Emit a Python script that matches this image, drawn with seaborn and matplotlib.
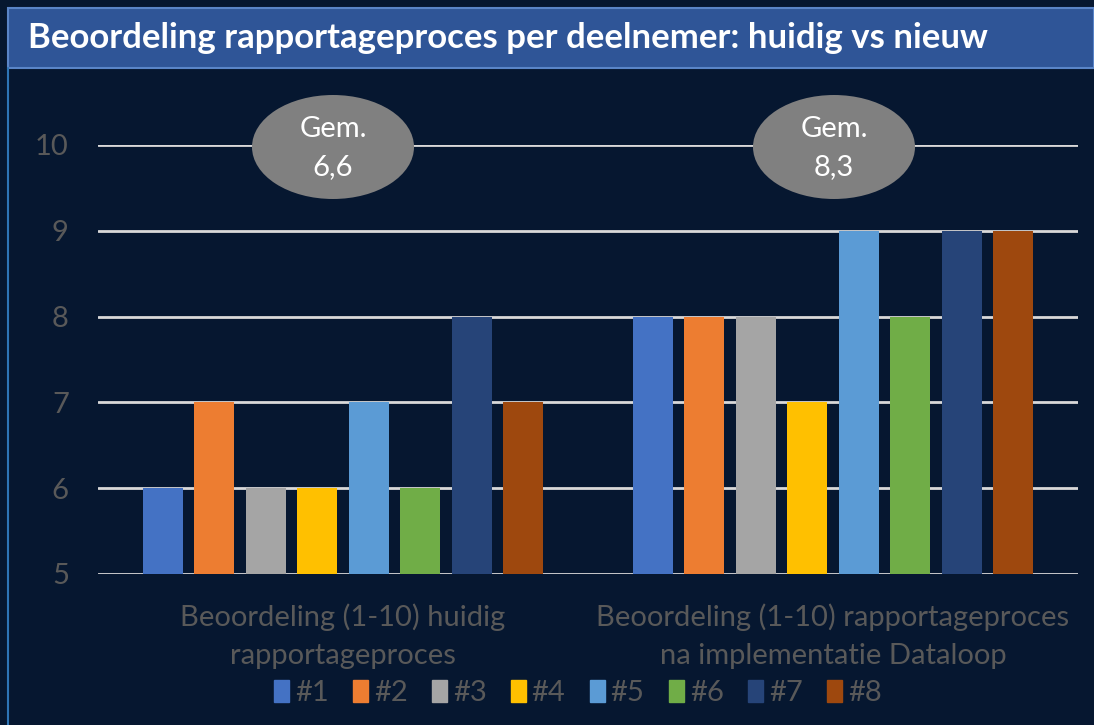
import matplotlib
matplotlib.use("Agg")
import matplotlib.pyplot as plt
import matplotlib.patches as mpatches
import seaborn as sns
import pandas as pd

# data
categories = ["Beoordeling (1-10) huidig\nrapportageproces",
              "Beoordeling (1-10) rapportageproces\nna implementatie Dataloop"]
participants = ["#1", "#2", "#3", "#4", "#5", "#6", "#7", "#8"]
scores_current = [6, 7, 6, 6, 7, 6, 8, 7]
scores_new = [8, 8, 8, 7, 9, 8, 9, 9]
averages = ["6,6", "8,3"]
yticks = [5, 6, 7, 8, 9, 10]

colors = ["#4472C4", "#ED7D31", "#A5A5A5", "#FFC000",
          "#5B9BD5", "#70AD47", "#264478", "#9E480E"]
BG = "#061730"
TXT = "#595959"

df = pd.DataFrame({
    "cat": [categories[0]] * 8 + [categories[1]] * 8,
    "who": participants * 2,
    "score": scores_current + scores_new,
})

sns.set_theme(style="dark")
plt.rcParams["font.family"] = ["Lato", "DejaVu Sans"]

fig = plt.figure(figsize=(10.94, 7.25), dpi=100, facecolor=BG)
W, H = 1094, 725
ax = fig.add_axes([98 / W, 1 - 574 / H, 980 / W, (574 - 145) / H])
ax.set_facecolor(BG)

sns.barplot(data=df, x="cat", y="score", hue="who", palette=colors,
            width=0.84, gap=0.22, ax=ax, legend=True, saturation=1,
            linewidth=0, edgecolor="none")
# bars start at the axis floor (5)
for p in ax.patches:
    if isinstance(p, mpatches.Rectangle) and p.get_height() > 0:
        h = p.get_height()
        p.set_y(5)
        p.set_height(h - 5)
        p.set_zorder(3)

ax.set_ylim(5, 10)
ax.set_xlim(-0.5, 1.5)
ax.set_yticks(yticks)
ax.grid(axis="y", color="#D9D9D9", linewidth=2, zorder=0)
ax.set_axisbelow(True)
for s in ax.spines.values():
    s.set_visible(False)
ax.set_xlabel("")
ax.set_ylabel("")
ax.tick_params(axis="y", colors=TXT, labelsize=21, length=0, pad=21)
ax.tick_params(axis="x", colors=TXT, labelsize=21, length=0, pad=21)
for lab in ax.get_xticklabels():
    lab.set_linespacing(1.57)

# average ovals
for xc, avg in zip([333, 834], averages):
    e = mpatches.Ellipse((xc / W, 1 - 147 / H), 162 / W, 104 / H,
                         transform=fig.transFigure, facecolor="#808080",
                         edgecolor="none", zorder=5)
    fig.patches.append(e)
    fig.text(xc / W, 1 - 148 / H, f"Gem.\n{avg}", ha="center", va="center",
             color="white", fontsize=21, linespacing=1.55, zorder=6)

# legend
handles = [mpatches.Patch(color=c) for c in colors]
ax.get_legend().remove()
fig.legend(handles, participants, loc="center", bbox_to_anchor=(578 / W, 1 - 693 / H),
           ncol=8, frameon=False, fontsize=21, labelcolor=TXT,
           handlelength=0.5, handleheight=0.8, handletextpad=0.2, columnspacing=0.85)

# title bar and left line
fig.patches.append(mpatches.Rectangle((8 / W, 1 - 68 / H), 1 - 8 / W, 60 / H,
                                      transform=fig.transFigure, facecolor="#2F5597",
                                      edgecolor="#5A85C8", linewidth=1.5, zorder=1))
fig.add_artist(plt.Line2D([8 / W, 8 / W], [0, 1 - 68 / H], transform=fig.transFigure,
                          color="#2E75B6", linewidth=1.5))
fig.text(28 / W, 1 - 38 / H, "Beoordeling rapportageproces per deelnemer: huidig vs nieuw",
         ha="left", va="center", color="white", fontsize=25, fontweight="bold", zorder=2)

fig.savefig("out.png", dpi=100, facecolor=BG)
